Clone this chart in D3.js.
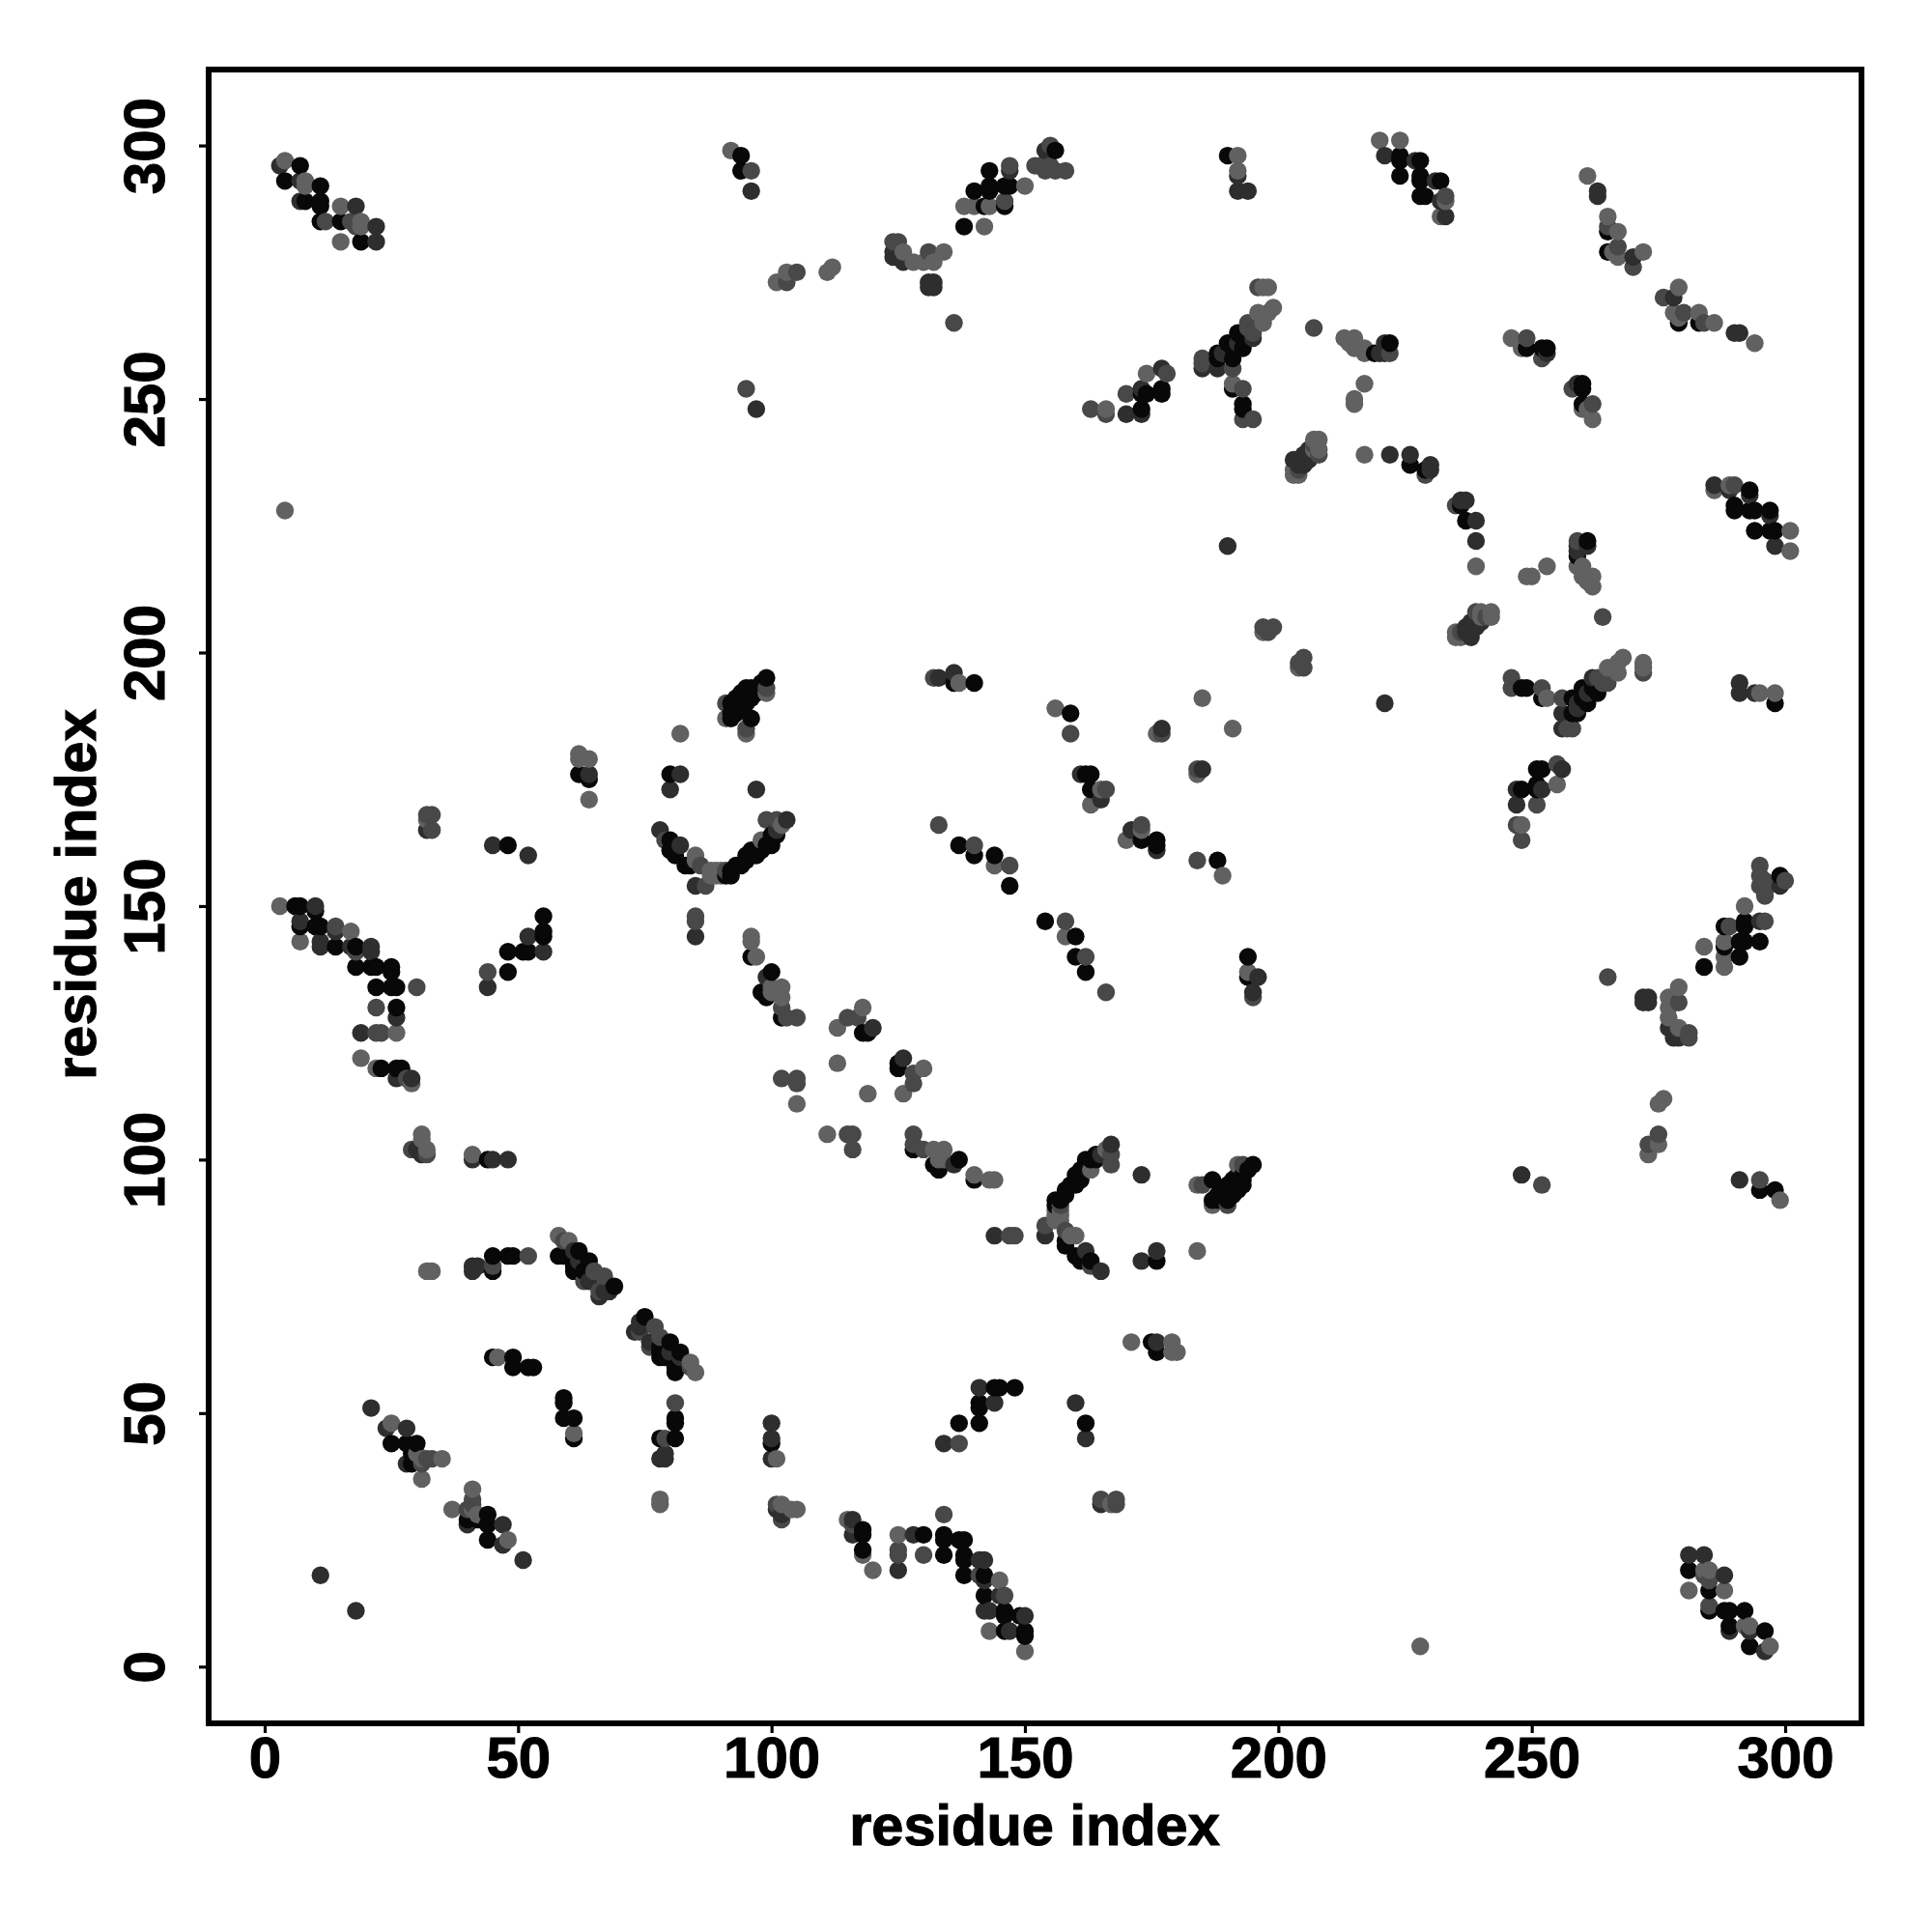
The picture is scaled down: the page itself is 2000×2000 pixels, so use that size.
<!DOCTYPE html>
<html>
<head>
<meta charset="utf-8">
<script src="https://cdn.jsdelivr.net/npm/d3@7"></script>
<style>html,body{margin:0;background:#fff}svg{display:block}text{font-family:"Liberation Sans",Arial,sans-serif;font-weight:bold;fill:#000;stroke:#000;stroke-width:1.1px}</style>
</head>
<body>
<svg id="c" width="2000" height="2000"></svg>
<script>
const tickValues = [0, 50, 100, 150, 200, 250, 300];
const axisTitle = "residue index";
const shades = ["#080808", "#2e2e2e", "#484848", "#616161"];
const contactsBlack = [[4,293],[7,296],[8,289],[11,292],[11,289],[11,288],[11,285],[15,285],[19,281],[94,298],[94,295],[143,295],[140,291],[143,291],[143,292],[146,292],[147,292],[142,288],[146,288],[138,284],[156,299],[190,298],[193,262],[192,263],[193,260],[190,261],[191,260],[191,258],[188,258],[188,259],[191,252],[193,249],[193,248],[173,248],[173,251],[174,251],[177,251],[177,252],[224,298],[224,297],[228,297],[224,294],[228,294],[228,293],[232,293],[228,290],[229,290],[265,283],[265,279],[249,260],[252,260],[253,260],[219,259],[222,261],[226,237],[229,236],[6,150],[7,150],[10,149],[7,146],[10,146],[11,146],[14,142],[18,142],[18,138],[21,138],[22,138],[25,138],[25,137],[22,134],[25,134],[26,134],[26,130],[23,118],[26,118],[27,118],[62,176],[64,175],[48,162],[48,137],[48,141],[51,141],[52,141],[55,145],[55,144],[55,148],[80,163],[80,161],[81,160],[83,158],[84,158],[80,176],[44,100],[91,156],[92,156],[92,157],[93,158],[94,158],[95,159],[95,160],[96,161],[97,160],[98,161],[99,162],[100,162],[100,163],[100,164],[101,164],[92,187],[92,188],[92,190],[93,188],[93,189],[93,191],[94,189],[94,191],[94,192],[95,190],[95,192],[95,193],[96,191],[96,193],[97,193],[97,192],[98,194],[99,195],[96,187],[137,162],[140,160],[144,160],[147,154],[159,188],[163,176],[162,176],[163,173],[136,194],[140,194],[96,140],[100,137],[98,133],[99,132],[102,128],[118,125],[119,125],[45,81],[45,78],[48,81],[49,81],[59,81],[58,81],[61,79],[62,78],[62,82],[61,78],[64,80],[63,78],[69,75],[45,61],[49,61],[49,59],[52,59],[53,59],[25,44],[28,44],[30,44],[29,42],[29,40]];
const contactsDark = [[3,296],[7,293],[7,289],[18,288],[22,284],[22,281],[96,291],[192,294],[192,291],[194,291],[154,299],[147,295],[131,272],[132,272],[131,273],[132,273],[124,279],[124,278],[126,277],[190,259],[189,259],[192,261],[195,262],[185,256],[188,256],[170,247],[173,247],[173,252],[177,256],[190,221],[97,248],[221,298],[227,297],[231,293],[232,289],[233,286],[263,291],[263,290],[270,278],[221,261],[221,259],[220,259],[226,239],[222,239],[230,237],[230,236],[253,259],[206,240],[206,238],[205,237],[205,239],[204,237],[203,238],[10,150],[7,147],[14,145],[11,143],[11,142],[17,142],[21,142],[21,141],[19,125],[26,128],[26,116],[29,116],[64,176],[32,165],[45,162],[52,160],[44,134],[52,144],[55,141],[78,165],[82,162],[82,176],[80,173],[85,144],[85,154],[30,102],[31,101],[41,100],[45,100],[48,100],[97,173],[103,167],[101,165],[133,195],[136,196],[161,176],[165,171],[177,185],[99,136],[120,126],[41,78],[41,79],[42,79],[61,82],[62,80],[67,74],[68,74],[66,73],[64,76],[21,51],[24,47],[28,47],[28,40],[11,18]];
const contactsMid = [[17,285],[18,284],[12,285],[96,295],[95,252],[155,300],[152,296],[153,296],[154,295],[155,296],[156,295],[158,295],[147,296],[146,289],[131,279],[124,281],[125,281],[103,273],[105,275],[196,272],[194,265],[194,264],[195,263],[185,258],[185,257],[191,256],[193,252],[193,246],[195,246],[163,248],[166,247],[170,251],[178,255],[197,205],[199,205],[198,204],[136,265],[233,290],[265,284],[267,280],[270,276],[207,264],[222,259],[249,262],[252,258],[229,235],[207,241],[208,239],[204,236],[14,146],[22,125],[23,125],[22,130],[30,134],[28,116],[18,141],[32,168],[33,168],[33,165],[29,102],[32,101],[44,137],[79,163],[86,158],[87,154],[85,148],[85,147],[91,157],[95,185],[99,193],[91,190],[99,167],[101,167],[133,166],[140,162],[147,158],[159,184],[177,184],[166,173],[132,195],[105,116],[102,116],[105,115],[102,130],[103,128],[105,128],[115,128],[117,128],[45,79],[52,81],[59,84],[63,76],[65,78],[67,77],[66,74],[32,41],[31,40],[33,41]];
const contactsLight = [[4,297],[8,293],[8,292],[15,288],[19,285],[19,284],[15,281],[4,228],[92,299],[150,292],[138,288],[140,288],[143,288],[142,284],[134,279],[126,279],[128,277],[130,277],[132,277],[101,273],[103,275],[111,275],[112,276],[192,298],[192,295],[198,272],[197,272],[199,268],[198,267],[196,267],[197,266],[197,265],[191,253],[174,255],[166,248],[197,204],[220,301],[224,301],[233,289],[232,286],[261,294],[265,286],[267,283],[267,278],[272,279],[266,279],[213,262],[215,262],[214,261],[215,260],[217,259],[217,260],[217,253],[215,249],[215,250],[217,239],[246,262],[248,261],[248,260],[208,242],[208,240],[207,242],[207,240],[204,235],[203,235],[203,236],[62,180],[62,179],[64,179],[64,171],[32,167],[3,150],[17,145],[7,143],[26,125],[19,120],[22,118],[29,115],[31,105],[31,104],[32,102],[41,101],[82,184],[85,160],[85,159],[88,157],[89,157],[90,157],[88,156],[89,156],[90,156],[91,187],[95,184],[102,166],[98,163],[99,192],[137,194],[144,158],[156,189],[185,191],[176,184],[165,173],[163,170],[96,144],[96,143],[97,140],[100,133],[100,134],[102,134],[102,132],[101,133],[113,126],[118,130],[113,119],[105,111],[32,78],[33,78],[46,61],[58,85],[60,84],[25,48],[31,41],[35,41],[31,37],[30,42]];

const contactGroups = [contactsBlack, contactsDark, contactsMid, contactsLight];
// A contact map is symmetric: each contact (i, j) also appears as (j, i).
const points = [];
contactGroups.forEach((group, s) => group.forEach(([i, j]) => {
  points.push({x: i, y: j, s});
  points.push({x: j, y: i, s});
}));
points.sort((a, b) => d3.ascending(a.x, b.x) || d3.ascending(a.y, b.y));

const x = d3.scaleLinear().domain([0, 300]).range([274, 1848]);
const y = d3.scaleLinear().domain([0, 300]).range([1725.3, 150.6]);
const svg = d3.select("#c");

svg.append("g").selectAll("circle").data(points).join("circle")
  .attr("cx", d => x(d.x)).attr("cy", d => y(d.y)).attr("r", 9.2)
  .attr("fill", d => shades[d.s]);

svg.append("rect").attr("x", 216).attr("y", 72).attr("width", 1711).attr("height", 1712)
  .attr("fill", "none").attr("stroke", "#000").attr("stroke-width", 6);

const gx = svg.append("g").attr("transform", "translate(0,1784)")
  .call(d3.axisBottom(x).tickValues(tickValues).tickSize(10).tickPadding(0));
const gy = svg.append("g").attr("transform", "translate(216,0)")
  .call(d3.axisLeft(y).tickValues(tickValues).tickSize(10).tickPadding(0));
[gx, gy].forEach(g => {
  g.select(".domain").remove();
  g.selectAll("line").attr("stroke", "#000").attr("stroke-width", 3.2);
  g.selectAll("text").style("font-size", "60px").style("font-family", '"Liberation Sans"').style("font-weight", "bold").attr("fill", "#000");
});
gx.selectAll("text").attr("y", 56).attr("dy", 0);
gy.selectAll("text").attr("x", null).attr("dy", 0).attr("text-anchor", "middle")
  .attr("transform", "translate(-46,0) rotate(-90)");

svg.append("text").attr("x", 1071).attr("y", 1910).attr("text-anchor", "middle")
  .style("font-size", "59.5px").text(axisTitle);
svg.append("text").attr("text-anchor", "middle")
  .attr("transform", "translate(99,926) rotate(-90)")
  .style("font-size", "59.5px").text(axisTitle);
</script>
</body>
</html>
